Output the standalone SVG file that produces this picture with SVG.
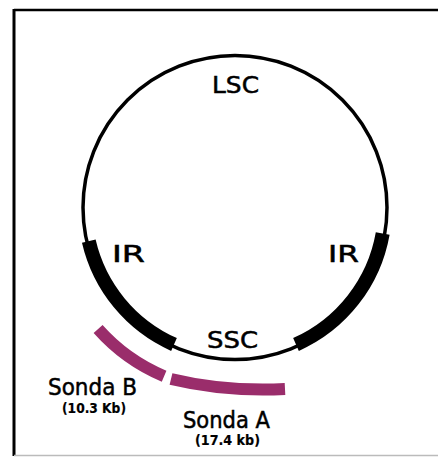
<svg xmlns="http://www.w3.org/2000/svg" width="438" height="458" viewBox="0 0 438 458">
<style>
.lbl{font-family:"DejaVu Sans","Liberation Sans",sans-serif;fill:#000;stroke:#000;stroke-width:0.5;}
.big{font-size:23px;}
.small{font-size:14px;font-weight:bold;stroke-width:0.2;}
.ir{fill:none;stroke:#000;stroke-width:14;stroke-linecap:butt;}
.probe{fill:none;stroke:#9a2d6b;stroke-width:12;stroke-linecap:butt;}
</style>
<rect width="438" height="458" fill="#fff"/>
<g id="frame">
<line x1="14" y1="10" x2="438" y2="10" stroke="#000" stroke-width="2.5"/>
<line x1="14" y1="9" x2="14" y2="456" stroke="#000" stroke-width="3"/>
<line x1="14" y1="455.5" x2="438" y2="455.5" stroke="#bbb" stroke-width="1.5"/>
</g>
<g id="genome">
<circle cx="235" cy="207.5" r="152" fill="none" stroke="#000" stroke-width="3.5"/>
</g>
<g id="IR-left">
<path class="ir" d="M88.8,241.2 A150,150 0 0 0 174,344.5"/>
<text class="lbl big" x="112" y="262" textLength="33" lengthAdjust="spacingAndGlyphs">IR</text>
</g>
<g id="IR-right">
<path class="ir" d="M382.7,233.5 A150,150 0 0 1 296,344.5"/>
<text class="lbl big" x="328" y="262" textLength="31" lengthAdjust="spacingAndGlyphs">IR</text>
</g>
<g id="LSC">
<text class="lbl big" x="212" y="93" textLength="47" lengthAdjust="spacingAndGlyphs">LSC</text>
</g>
<g id="SSC">
<text class="lbl big" x="207" y="348" textLength="51" lengthAdjust="spacingAndGlyphs">SSC</text>
</g>
<g id="sonda-B">
<path class="probe" d="M98.1,329 A183,183 0 0 0 164.1,376.2"/>
<text class="lbl big" x="48" y="395" textLength="89" lengthAdjust="spacingAndGlyphs">Sonda B</text>
<text class="lbl small" x="62" y="413" textLength="64" lengthAdjust="spacingAndGlyphs">(10.3 Kb)</text>
</g>
<g id="sonda-A">
<path class="probe" d="M171,379 Q225,392 285,389"/>
<text class="lbl big" x="183" y="428" textLength="87" lengthAdjust="spacingAndGlyphs">Sonda A</text>
<text class="lbl small" x="195" y="445" textLength="65" lengthAdjust="spacingAndGlyphs">(17.4 kb)</text>
</g>
</svg>
